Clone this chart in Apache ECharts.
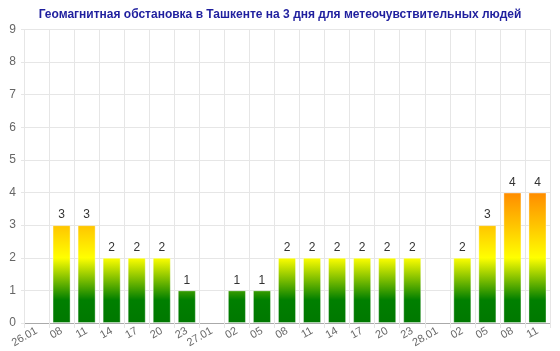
<!DOCTYPE html>
<html>
<head>
<meta charset="utf-8">
<script src="https://cdn.jsdelivr.net/npm/echarts@6/dist/echarts.min.js"></script>
<style>html,body{margin:0;padding:0;background:#fff;}#c{width:560px;height:351px;}</style>
</head>
<body>
<div id="c"></div>
<script>
const titleText = 'Геомагнитная обстановка в Ташкенте на 3 дня для метеочувствительных людей';
const categories = ['26.01','08','11','14','17','20','23','27.01','02','05','08','11','14','17','20','23','28.01','02','05','08','11'];
const values = [null,3,3,2,2,2,1,null,1,1,2,2,2,2,2,2,null,2,3,4,4];
const yTicks = [0,1,2,3,4,5,6,7,8,9];
const colorStopValues = [0, 0.7, 2, 3, 4];
const colorStopColors = ['#007800', '#007f00', '#ffff00', '#ffc400', '#ff8c00'];

const chart = echarts.init(document.getElementById('c'), null, {renderer:'canvas'});
const yMin = yTicks[0], yMax = yTicks[yTicks.length-1];
function buildOption(grad){
  return {
    animation:false,
    backgroundColor:'#fff',
    title:{text:titleText,left:'center',top:4,
      textStyle:{fontFamily:'Liberation Sans, Arial, sans-serif',fontSize:12,fontWeight:'bold',color:'#1f1f9e'}},
    grid:{left:24,right:10,top:29.5,bottom:28,containLabel:false},
    xAxis:{type:'category',data:categories,boundaryGap:true,
      axisLine:{lineStyle:{color:'#aaaaaa'}},
      axisTick:{show:true,length:5,lineStyle:{color:'#e6e6e6'}},
      splitLine:{show:true,lineStyle:{color:'#e6e6e6'}},
      axisLabel:{rotate:30,margin:7,fontSize:11,color:'#666',fontFamily:'Liberation Sans, Arial, sans-serif',interval:0}},
    yAxis:{type:'value',min:yMin,max:yMax,interval:1,
      axisLine:{show:false},
      axisTick:{show:true,length:3,lineStyle:{color:'#e6e6e6'}},
      splitLine:{show:true,lineStyle:{color:'#e6e6e6'}},
      axisLabel:{margin:8,fontSize:12,color:'#666',fontFamily:'Liberation Sans, Arial, sans-serif'}},
    series:[{type:'bar',data:values,barWidth:'72%',
      itemStyle:{color:grad,borderColor:'rgba(255,255,255,0.35)',borderWidth:1},
      label:{show:true,position:'top',distance:4,fontSize:12,color:'#333',fontFamily:'Liberation Sans, Arial, sans-serif'}}]
  };
}
chart.setOption(buildOption('#008000'));
const yTop = chart.convertToPixel({yAxisIndex:0}, colorStopValues[colorStopValues.length-1]);
const yBot = chart.convertToPixel({yAxisIndex:0}, colorStopValues[0]);
const span = colorStopValues[colorStopValues.length-1]-colorStopValues[0];
const grad = new echarts.graphic.LinearGradient(0, yBot, 0, yTop,
  colorStopValues.map((v,i)=>({offset:(v-colorStopValues[0])/span,color:colorStopColors[i]})), true);
chart.setOption(buildOption(grad));
</script>
</body>
</html>
